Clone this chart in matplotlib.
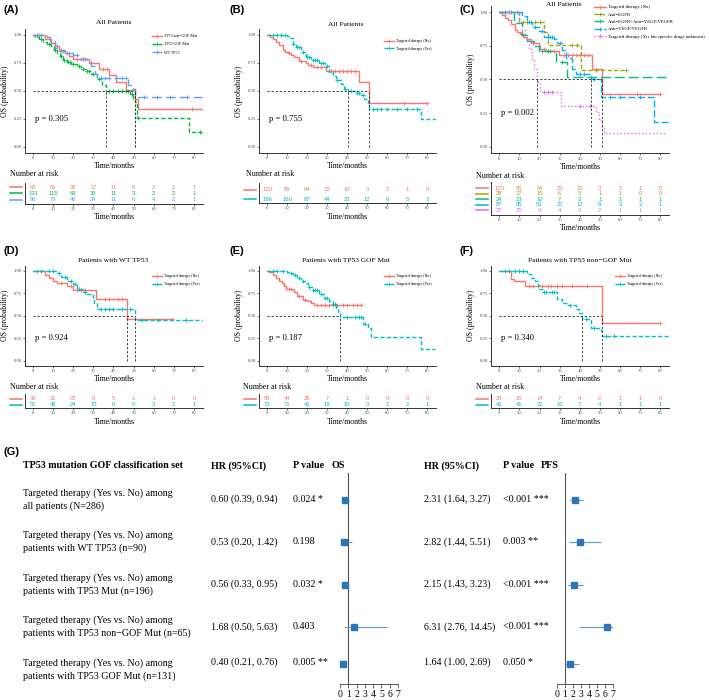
import numpy as np
import matplotlib
matplotlib.use('Agg')
import matplotlib.pyplot as plt
from matplotlib.lines import Line2D

plt.rcParams['font.family'] = 'Liberation Serif'
plt.rcParams['axes.linewidth'] = 0.7

# ---- colours (ggplot hues) ----
RED, GREEN, BLUE, CYAN = '#F8766D', '#00BA38', '#619CFF', '#00BFC4'
OLIVE, TEAL, SKY, PINK = '#A3A500', '#00BF7D', '#00B0F6', '#E76BF3'

# ---- KM curves: step times, survival after each step, last follow-up, censor times ----
a_nongof_t = [0, 6, 9, 11, 13, 16, 18, 20, 28, 33, 38, 41, 46, 50.5, 52]
a_nongof_s = [1.0, 0.96, 0.93, 0.90, 0.87, 0.84, 0.81, 0.79, 0.75, 0.70, 0.64, 0.58, 0.51, 0.43, 0.34]
a_nongof_end, a_nongof_c = 84, [2, 3, 12, 14, 17, 22, 24, 26, 35, 37, 79]
a_gof_t = [0, 1, 3, 5, 7, 9, 10.5, 12, 13.4, 15, 16.7, 19, 21.7, 24, 26.6, 29, 31.7, 34.2, 36.5, 48, 49.5, 50.5, 51.6, 77.3]
a_gof_s = [1.0, 0.98, 0.96, 0.94, 0.92, 0.90, 0.87, 0.84, 0.81, 0.78, 0.76, 0.74, 0.72, 0.70, 0.68, 0.65, 0.61, 0.55, 0.50, 0.47, 0.43, 0.40, 0.26, 0.13]
a_gof_end, a_gof_c = 84, [4, 8, 11, 14, 15.5, 17.5, 18.5, 20, 23, 25, 27, 28, 30, 33, 38, 40, 42, 44, 46, 47, 49, 52, 83]
a_wt_t = [0, 7, 8.5, 11, 13, 16, 20, 23, 27, 29, 31, 32, 47.4, 49.5, 50.7]
a_wt_s = [1.0, 0.98, 0.95, 0.88, 0.86, 0.84, 0.82, 0.79, 0.77, 0.72, 0.65, 0.62, 0.55, 0.52, 0.45]
a_wt_end, a_wt_c = 84, [2, 4, 15, 18, 22, 25, 34, 36, 38, 41, 44, 46, 55, 61.5, 68, 76.4]

b_no_t = [0, 1.5, 3, 4.5, 6, 7.8, 9, 10.3, 12, 13.7, 16, 19.5, 20.3, 23, 29.5, 46, 51.2]
b_no_s = [1.0, 0.98, 0.96, 0.94, 0.91, 0.87, 0.85, 0.84, 0.82, 0.80, 0.77, 0.75, 0.73, 0.71, 0.68, 0.58, 0.39]
b_no_end, b_no_c = 80, [11, 17, 22, 25, 27, 32, 34, 36, 38, 40, 42, 44, 68.7, 80]
b_yes_t = [0, 10, 11, 12.8, 14.5, 17, 19.5, 22, 26, 29, 31, 33, 34.5, 37, 38.5, 40.7, 44.5, 47, 48.7, 50.3, 51.2, 77]
b_yes_s = [1.0, 0.99, 0.97, 0.92, 0.89, 0.85, 0.80, 0.78, 0.75, 0.72, 0.67, 0.63, 0.60, 0.56, 0.52, 0.50, 0.48, 0.46, 0.43, 0.39, 0.34, 0.25]
b_yes_end, b_yes_c = 84.5, [3, 5, 7, 9, 13, 15, 16, 18, 20, 21, 23, 24, 25, 27, 28, 30, 35, 39, 42, 45, 46, 48, 53, 55, 57, 60, 65, 70, 75]

c_egfr_t = [0, 9.7, 22.2, 24.4, 40.5]
c_egfr_s = [1.0, 0.93, 0.85, 0.76, 0.57]
c_egfr_end, c_egfr_c = 62.8, [12, 14, 16, 18, 20, 36.3, 38.8, 47.9, 62.8]
c_both_t = [0, 7.3, 11.4, 13.9, 17.2, 19.7, 28, 33.8]
c_both_s = [1.0, 0.92, 0.83, 0.79, 0.75, 0.71, 0.63, 0.52]
c_both_end, c_both_c = 84.4, [5, 21, 24, 31]
c_vegf_t = [0, 11.4, 13.9, 16.4, 19.7, 22, 27, 28.9, 31, 33, 36, 38, 45.4, 50.4, 77]
c_vegf_s = [1.0, 0.97, 0.93, 0.89, 0.86, 0.82, 0.80, 0.77, 0.72, 0.66, 0.58, 0.54, 0.50, 0.37, 0.18]
c_vegf_end, c_vegf_c = 84.4, [3, 6, 9, 15, 18, 21, 24, 25, 26, 30, 40, 42, 47, 55, 60, 70]
c_unk_t = [0, 9.7, 11.4, 13, 14.8, 16.4, 17.5, 18.6, 20, 30.5, 47.9, 49.5, 51, 52]
c_unk_s = [1.0, 0.93, 0.87, 0.80, 0.73, 0.65, 0.58, 0.48, 0.41, 0.30, 0.26, 0.20, 0.15, 0.10]
c_unk_end, c_unk_c = 83, [5, 22, 24, 26, 40, 45]

d_no_t = [0, 6, 8, 10, 12, 17, 20, 31.2, 46.6]
d_no_s = [1.0, 0.95, 0.92, 0.89, 0.86, 0.83, 0.79, 0.69, 0.46]
d_no_end, d_no_c = 69, [14, 19, 22, 24, 26, 36, 38, 42, 44, 69]
d_yes_t = [0, 12, 14, 17, 20, 22, 25, 27, 29.6, 30.5, 32, 50.7]
d_yes_s = [1.0, 0.97, 0.93, 0.89, 0.85, 0.80, 0.76, 0.74, 0.69, 0.64, 0.58, 0.45]
d_yes_end, d_yes_c = 84.4, [2, 4, 8, 10, 13, 16, 19, 21, 23, 26, 34, 36, 38, 40, 44, 48, 54, 62, 76]

e_no_t = [0, 1, 3, 4.5, 6, 7.5, 8.5, 9.5, 13.7, 15, 18, 20.3, 22, 23.7]
e_no_s = [1.0, 0.98, 0.95, 0.92, 0.89, 0.86, 0.83, 0.80, 0.76, 0.72, 0.68, 0.66, 0.64, 0.62]
e_no_end, e_no_c = 47, [11, 12, 16, 19, 25, 27, 29, 31, 33, 35, 38, 40, 43, 45, 47]
e_yes_t = [0, 10, 11, 13, 15, 17, 19, 20.5, 22.8, 26, 28.7, 31, 32.8, 34.5, 35.3, 36.5, 47.8, 50.3, 52, 77]
e_yes_s = [1.0, 0.99, 0.97, 0.95, 0.92, 0.89, 0.86, 0.82, 0.78, 0.74, 0.70, 0.66, 0.63, 0.58, 0.54, 0.49, 0.41, 0.37, 0.26, 0.13]
e_yes_end, e_yes_c = 84, [3, 5, 8, 12, 14, 16, 18, 21, 23, 24, 25, 27, 29, 30, 33, 34, 40, 44, 46, 47, 49]

f_no_t = [0, 5.6, 7.3, 13, 51.2]
f_no_s = [1.0, 0.91, 0.88, 0.83, 0.42]
f_no_end, f_no_c = 80, [15, 17, 19, 21.4, 24, 25.5, 28.8, 31.3, 36.3, 43.8, 80]
f_yes_t = [0, 14, 16, 18, 19, 19.7, 21.4, 28.8, 31.3, 33.8, 38, 39.6, 41.3, 45.4, 50.4, 51.2]
f_yes_s = [1.0, 0.96, 0.92, 0.88, 0.84, 0.80, 0.76, 0.69, 0.64, 0.62, 0.57, 0.53, 0.46, 0.37, 0.33, 0.28]
f_yes_end, f_yes_c = 84.4, [3, 5, 8, 10, 12, 22, 23, 26, 27, 35, 43, 47, 53, 57]

p_values = ['p = 0.305', 'p = 0.755', 'p = 0.002', 'p = 0.924', 'p = 0.187', 'p = 0.340']
titles = ['All Patients', 'All Patients', 'All Patients', 'Patients with WT TP53',
          'Patients with TP53 GOF Mut', 'Patients with TP53 non\u2212GOF Mut']

# ---- numbers at risk ----
risk_times = [0, 10, 20, 30, 40, 50, 60, 70, 80]
risk_a = [[65, 61, 38, 17, 11, 6, 2, 2, 1], [131, 115, 69, 26, 11, 3, 2, 2, 1], [90, 79, 46, 24, 11, 6, 4, 2, 1]]
risk_b = [[120, 95, 64, 23, 10, 3, 2, 1, 0], [166, 160, 87, 44, 23, 12, 6, 5, 3]]
risk_c = [[120, 95, 64, 23, 10, 3, 2, 1, 0], [28, 27, 15, 6, 5, 1, 1, 0, 0], [24, 23, 10, 7, 3, 1, 1, 1, 1],
          [87, 85, 53, 27, 12, 8, 3, 3, 1], [27, 25, 9, 4, 3, 2, 1, 1, 1]]
risk_d = [[38, 31, 22, 9, 5, 1, 1, 0, 0], [52, 48, 24, 15, 6, 5, 3, 2, 1]]
risk_e = [[58, 44, 28, 7, 1, 0, 0, 0, 0], [73, 71, 41, 19, 10, 3, 2, 2, 1]]
risk_f = [[24, 20, 14, 7, 4, 2, 1, 1, 0], [41, 41, 22, 10, 7, 4, 1, 1, 1]]

# ---- forest plot (G) ----
g_labels = ['Targeted therapy (Yes vs. No) among\nall patients (N=286)',
            'Targeted therapy (Yes vs. No) among\npatients with WT TP53 (n=90)',
            'Targeted therapy (Yes vs. No) among\npatients with TP53 Mut (n=196)',
            'Targeted therapy (Yes vs. No) among\npatients with TP53 non\u2212GOF Mut (n=65)',
            'Targeted therapy (Yes vs. No) among\npatients with TP53 GOF Mut (n=131)']
os_hr = [0.60, 0.53, 0.56, 1.68, 0.40]
os_lo = [0.39, 0.20, 0.33, 0.50, 0.21]
os_hi = [0.94, 1.42, 0.95, 5.63, 0.76]
os_p = ['0.024 *', '0.198', '0.032 *', '0.403', '0.005 **']
pfs_hr = [2.31, 2.82, 2.15, 6.31, 1.64]
pfs_lo = [1.64, 1.44, 1.43, 2.76, 1.00]
pfs_hi = [3.27, 5.51, 3.23, 14.45, 2.69]
pfs_p = ['<0.001 ***', '0.003 **', '<0.001 ***', '<0.001 ***', '0.050 *']

W, H = 709, 700
fig = plt.figure(figsize=(W / 100, H / 100), dpi=100)


def box(x0, y0, x1, y1):
    return [x0 / W, 1 - y1 / H, (x1 - x0) / W, (y1 - y0) / H]


def ftext(x, y, s, **kw):
    kw.setdefault('va', 'center')
    fig.text(x / W, 1 - y / H, s, **kw)


TICK = '#4D4D4D'
SOLID, SHORT, LONG, MID, DOT = '-', (0, (3, 1.6)), (0, (7, 3)), (0, (5, 2)), (0, (1, 1.6))
LW = 1.0


def km_panel(rect, curves, ptxt, leg_xy, leg_fs=2.9, leg_sp=1.0):
    ax = fig.add_axes(box(*rect))
    meds = []
    handles, labels = [], []
    for t, s, end, cens, col, ls, lab in curves:
        t, s = np.array(t, float), np.array(s, float)
        ax.step(np.append(t, end), np.append(s, s[-1]), where='post', color=col, lw=LW, ls=ls, zorder=3)
        idx = np.searchsorted(t, cens, side='right') - 1
        ax.plot(cens, s[idx], '+', color=col, ms=2.8, mew=0.65, zorder=3)
        below = np.nonzero(s <= 0.5)[0]
        if len(below):
            meds.append(t[below[0]])
        handles.append(Line2D([], [], color=col, ls=ls, lw=LW, marker='+', ms=2.6, mew=0.6))
        labels.append(lab)
    mk = dict(color='#333333', lw=0.65, ls=(0, (2.5, 2)), zorder=4)
    if meds:
        ax.plot([0, max(meds)], [0.5, 0.5], **mk)
        for m in meds:
            ax.plot([m, m], [0, 0.5], **mk)
    ax.text(1, 0.25, ptxt, fontsize=6.2, va='center', ha='left')
    ax.set_xlim(-4, 84.5)
    ax.set_ylim(-0.05, 1.05)
    ax.set_xticks(risk_times)
    ax.set_yticks([0, 0.25, 0.5, 0.75, 1.0])
    ax.set_yticklabels(['0.00', '0.25', '0.50', '0.75', '1.00'])
    for sp in ['top', 'right']:
        ax.spines[sp].set_visible(False)
    for sp in ['left', 'bottom']:
        ax.spines[sp].set_color('#333333')
    ax.tick_params(labelsize=3.4, labelcolor=TICK, length=1.5, width=0.5, pad=0.8, color='#333333')
    ax.set_xlabel('Time/months', fontsize=5.6, labelpad=1.5)
    ax.set_ylabel('OS (probability)', fontsize=5.6, labelpad=3.5)
    x0, y0, x1, y1 = rect
    ax.legend(handles, labels, loc='upper left',
              bbox_to_anchor=((leg_xy[0] - x0) / (x1 - x0), 1 - (leg_xy[1] - y0) / (y1 - y0)),
              frameon=False, fontsize=leg_fs, handlelength=2.5, handletextpad=0.4,
              labelspacing=leg_sp, borderpad=0, borderaxespad=0)
    return ax


def risk_panel(rect, rows, cols, ylim, label_xy):
    ax = fig.add_axes(box(*rect))
    for i, (row, col) in enumerate(zip(rows, cols)):
        for t, n in zip(risk_times, row):
            ax.text(t, i, str(n), color=col, ha='center', va='center', fontsize=4.2,
                    family='Liberation Sans')
        wpx = rect[2] - rect[0]
        ax.plot([-15 / wpx, -3 / wpx], [i, i], color=col, lw=1.1,
                transform=ax.get_yaxis_transform(), clip_on=False)
    ax.set_xlim(-4, 84.5)
    ax.set_ylim(*ylim)
    ax.set_xticks(risk_times)
    ax.set_yticks([])
    for sp in ['top', 'right']:
        ax.spines[sp].set_visible(False)
    for sp in ['left', 'bottom']:
        ax.spines[sp].set_color('#333333')
    ax.tick_params(labelsize=3.4, labelcolor=TICK, length=1.5, width=0.5, pad=0.8, color='#333333')
    ax.set_xlabel('Time/months', fontsize=5.6, labelpad=1.5)
    ftext(label_xy[0], label_xy[1], 'Number at risk', fontsize=5.8)
    return ax


lab2 = ['Targeted therapy (No)', 'Targeted therapy (Yes)']

# ---- row 1 ----
km_panel((25, 29.4, 203, 152.6),
         [(a_nongof_t, a_nongof_s, a_nongof_end, a_nongof_c, RED, SOLID, 'TP53 non\u2212GOF Mut'),
          (a_gof_t, a_gof_s, a_gof_end, a_gof_c, GREEN, SHORT, 'TP53 GOF Mut'),
          (a_wt_t, a_wt_s, a_wt_end, a_wt_c, BLUE, LONG, 'WT TP53')],
         p_values[0], (152, 34), leg_sp=1.1)
km_panel((259, 29.4, 436, 152.6),
         [(b_no_t, b_no_s, b_no_end, b_no_c, RED, SOLID, lab2[0]),
          (b_yes_t, b_yes_s, b_yes_end, b_yes_c, CYAN, SHORT, lab2[1])],
         p_values[1], (384, 39), leg_sp=0.95)
km_panel((491.3, 5.6, 669.1, 153.4),
         [(b_no_t, b_no_s, b_no_end, b_no_c, RED, SOLID, 'Targeted therapy (No)'),
          (c_egfr_t, c_egfr_s, c_egfr_end, c_egfr_c, OLIVE, SHORT, 'Anti\u2212EGFR'),
          (c_both_t, c_both_s, c_both_end, c_both_c, TEAL, LONG, 'Anti\u2212EGFR+Anti\u2212VEGF/VEGFR'),
          (c_vegf_t, c_vegf_s, c_vegf_end, c_vegf_c, SKY, MID, 'Anti\u2212VEGF/VEGFR'),
          (c_unk_t, c_unk_s, c_unk_end, c_unk_c, PINK, DOT, 'Targeted therapy (Yes but specific drugs unknown)')],
         p_values[2], (594, 5), leg_fs=3.4, leg_sp=0.65)

risk_panel((25, 183, 203, 204), risk_a, [RED, GREEN, BLUE], (2.62, -0.62), (10, 174))
risk_panel((259, 183, 436, 203.3), risk_b, [RED, CYAN], (1.43, -0.75), (246, 174))
risk_panel((491.3, 182, 669.1, 215), risk_c, [RED, OLIVE, TEAL, SKY, PINK], (4.9, -1.09), (476, 176))

# ---- row 2 ----
km_panel((25, 266.1, 203, 365.5),
         [(d_no_t, d_no_s, d_no_end, d_no_c, RED, SOLID, lab2[0]),
          (d_yes_t, d_yes_s, d_yes_end, d_yes_c, CYAN, SHORT, lab2[1])],
         p_values[3], (152, 274.5), leg_sp=0.9)
km_panel((259, 266.1, 436, 365.5),
         [(e_no_t, e_no_s, e_no_end, e_no_c, RED, SOLID, lab2[0]),
          (e_yes_t, e_yes_s, e_yes_end, e_yes_c, CYAN, SHORT, lab2[1])],
         p_values[4], (384, 274.5), leg_sp=0.9)
km_panel((491.3, 266.1, 669.1, 365.5),
         [(f_no_t, f_no_s, f_no_end, f_no_c, RED, SOLID, lab2[0]),
          (f_yes_t, f_yes_s, f_yes_end, f_yes_c, CYAN, SHORT, lab2[1])],
         p_values[5], (615, 274.5), leg_sp=0.9)

risk_panel((25, 394, 203, 408.3), risk_d, [RED, CYAN], (1.55, -0.83), (10, 387))
risk_panel((259, 394, 436, 408.3), risk_e, [RED, CYAN], (1.55, -0.83), (243, 387))
risk_panel((491.3, 394, 669.1, 408.3), risk_f, [RED, CYAN], (1.55, -0.83), (476, 387))

# titles and panel letters
for (x, y), t in zip([(114, 23), (346, 24), (564, 5), (113, 260), (346, 260), (580, 260)], titles):
    ftext(x, y, t, fontsize=5.4, ha='center')
for (x, y), t in zip([(3, 10), (230, 10), (459, 10), (3, 251), (230, 251), (460, 251), (3, 452)],
                     ['(A)', '(B)', '(C)', '(D)', '(E)', '(F)', '(G)']):
    ftext(x, y, t, fontsize=8, weight='bold', family='Liberation Sans', ha='left')

# ---- panel G ----
label_y = [500, 542, 584.5, 627, 669.5]
value_y = [499.3, 541.7, 584.3, 626.7, 662.3]
box_y = [500, 542, 585, 627, 664]

hdr = dict(fontsize=7.2, weight='bold', ha='left')
ftext(23, 466, 'TP53 mutation GOF classification set', **hdr)
for x, t in [(211, 'HR (95%CI)'), (293, 'P value'), (332, 'OS'),
             (424, 'HR (95%CI)'), (503, 'P value'), (541, 'PFS')]:
    ftext(x, 466, t, **hdr)

for i in range(5):
    ftext(23, label_y[i], g_labels[i], fontsize=7.2, ha='left', linespacing=1.45)
    ftext(211, value_y[i], f'{os_hr[i]:.2f} ({os_lo[i]:.2f}, {os_hi[i]:.2f})', fontsize=7.2)
    ftext(293, value_y[i], os_p[i], fontsize=7.2)
    ftext(424, value_y[i], f'{pfs_hr[i]:.2f} ({pfs_lo[i]:.2f}, {pfs_hi[i]:.2f})', fontsize=7.2)
    ftext(503, value_y[i], pfs_p[i], fontsize=7.2)

for rect, hr, lo, hi in [((340, 473, 398, 684), os_hr, os_lo, os_hi),
                         ((557, 473, 613, 684), pfs_hr, pfs_lo, pfs_hi)]:
    ax = fig.add_axes(box(*rect))
    ax.set_xlim(0, 7)
    ax.set_ylim(684, 473)
    ax.axvline(1, color='#555555', lw=0.8)
    ax.hlines(box_y, lo, np.minimum(hi, 7), color='#5B9BD5', lw=0.8)
    ax.plot(hr, box_y, 's', ms=4.6, color='#2E75B6', clip_on=False, zorder=4)
    for sp in ['top', 'right', 'left']:
        ax.spines[sp].set_visible(False)
    ax.spines['bottom'].set_color('#555555')
    ax.set_xticks(range(8))
    ax.set_yticks([])
    ax.tick_params(labelsize=7, length=3, width=0.6, pad=1, color='#555555')
    ax.patch.set_alpha(0)

fig.savefig('out.png', dpi=100)
